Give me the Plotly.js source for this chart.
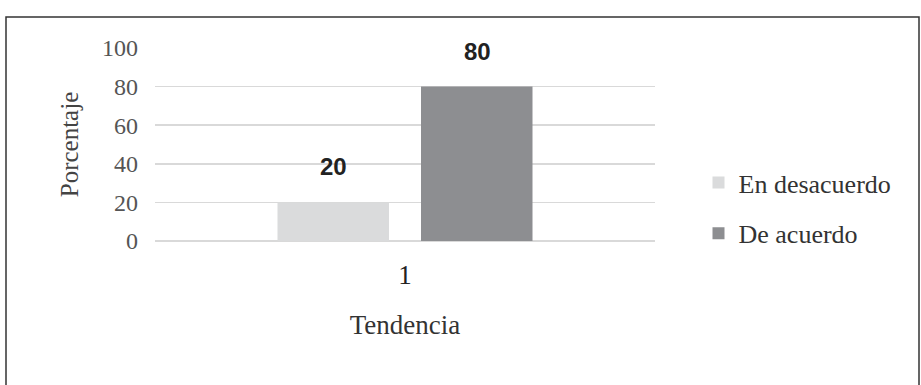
<!DOCTYPE html>
<html>
<head>
<meta charset="utf-8">
<script src="https://cdn.plot.ly/plotly-3.0.1.min.js"></script>
<style>html,body{margin:0;padding:0;background:#fff;}#chart{width:921px;height:385px;}</style>
</head>
<body>
<div id="chart"></div>
<script>
const categories = ["1"];
const seriesNames = ["En desacuerdo", "De acuerdo"];
const desacuerdo = [20];
const deAcuerdo = [80];
const yTicks = [0, 20, 40, 60, 80, 100];

const serif = "Liberation Serif, Times New Roman, serif";
const labelFont = {family: "Liberation Sans Narrow, Arial Narrow, Liberation Sans, sans-serif", size: 24, color: "#222"};

const traces = [
  {type: "bar", name: seriesNames[0], x: categories, y: desacuerdo, legendgroup: "a",
   marker: {color: "#dadbdc"}, hoverinfo: "skip"},
  {type: "bar", name: seriesNames[1], x: categories, y: deAcuerdo, legendgroup: "b",
   marker: {color: "#8d8e91"}, hoverinfo: "skip"}
];

const series = [desacuerdo, deAcuerdo];
const shifts = [-71.5, 72];
const annotations = [];
series.forEach((vals, s) => {
  vals.forEach((v, i) => {
    annotations.push({x: i, y: v, xref: "x", yref: "y", text: "<b>" + v + "</b>",
      showarrow: false, xshift: shifts[s], yshift: 20, yanchor: "bottom", font: labelFont});
  });
});

const layout = {
  width: 921, height: 385,
  margin: {l: 155, r: 266, t: 48, b: 144},
  paper_bgcolor: "#fff", plot_bgcolor: "#fff",
  barmode: "group", bargap: 0.426, bargroupgap: 0.223,
  showlegend: true,
  legend: {x: 1.087, y: 0.425, xanchor: "left", yanchor: "top", font: {family: serif, size: 26, color: "#333"},
           traceorder: "grouped", tracegroupgap: 14, itemwidth: 30, bgcolor: "rgba(0,0,0,0)"},
  xaxis: {type: "category", range: [-0.5, 0.5], showgrid: false, zeroline: false, showline: false,
          ticks: "", tickfont: {family: serif, size: 27, color: "#222"}, ticklabelstandoff: 15,
          title: {text: "Tendencia", font: {family: serif, size: 27, color: "#333"}, standoff: 26}},
  yaxis: {range: [0, 100], tickvals: yTicks, showgrid: true, gridcolor: "#d9d9d9", gridwidth: 1.5,
          zeroline: true, zerolinecolor: "#d9d9d9", zerolinewidth: 1.5, showline: false, ticks: "",
          tickfont: {family: serif, size: 24, color: "#555"}, ticklabelstandoff: 16,
          title: {text: "Porcentaje", font: {family: serif, size: 25, color: "#444"}, standoff: 16}},
  annotations: annotations,
  shapes: [{type: "rect", xref: "paper", yref: "paper", x0: -0.298, x1: 1.528, y0: -0.8, y1: 1.16,
            line: {color: "#333", width: 1.5}, fillcolor: "rgba(0,0,0,0)", layer: "below"}]
};

Plotly.newPlot("chart", traces, layout, {displayModeBar: false, staticPlot: true});
</script>
</body>
</html>
